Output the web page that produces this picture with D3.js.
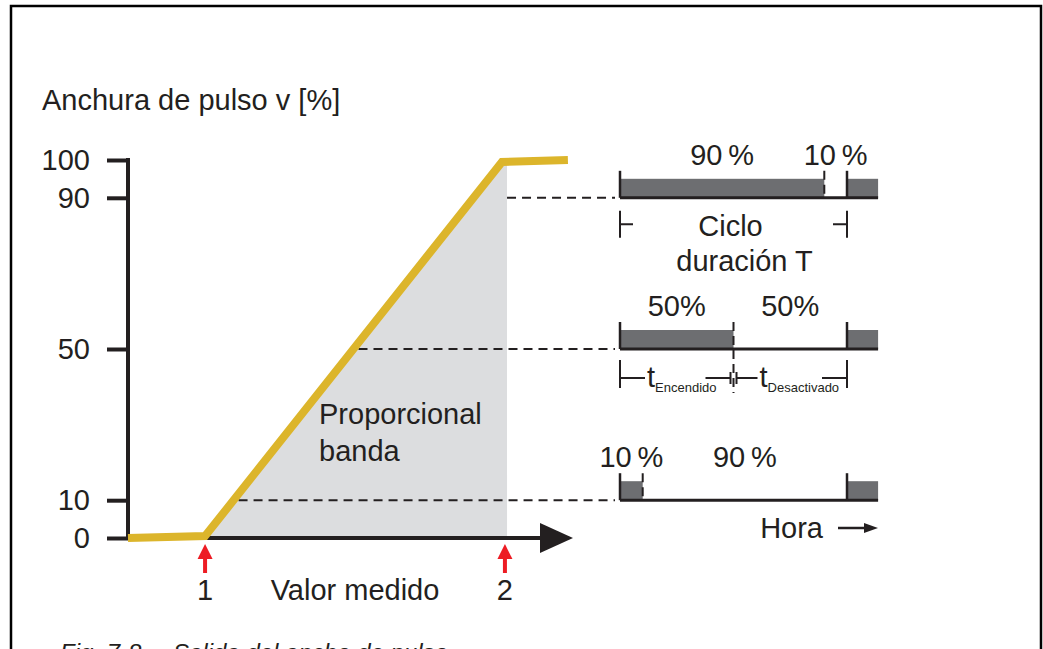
<!DOCTYPE html>
<html>
<head>
<meta charset="utf-8">
<script src="https://cdn.jsdelivr.net/npm/d3@7"></script>
<style>
  body { margin: 0; background: #fff; }
  svg { display: block; font-family: "Liberation Sans", Arial, sans-serif; }
</style>
</head>
<body>
<div id="chart"></div>
<script>
// values
const yTicks = [0, 10, 50, 90, 100];
const curveValues = [-0.257, 0, 0.99, 1.21];   // measured value (1 -> 0, 2 -> 1)
const curveWidths = [0, 0.5, 99.5, 100];       // pulse width v [%]
const markerValues = [0, 1];
const markerLabels = ["1", "2"];
const dutyCycles = [90, 50, 10];
const onLabels = ["90\u2009%", "50%", "10\u2009%"];
const offLabels = ["10\u2009%", "50%", "90\u2009%"];

const ink = "#231f20";
const W = 1043, H = 649;
const fs = "29px";

const svg = d3.select("#chart").append("svg")
  .attr("width", W)
  .attr("height", H);

// frame (open at the bottom)
svg.append("path")
  .attr("d", "M11," + H + "V6H1041V" + H)
  .attr("fill", "none")
  .attr("stroke", "#000")
  .attr("stroke-width", 2.5);

// scales
const x = d3.scaleLinear().domain([-0.257, 1.227]).range([128, 573]);
const y = d3.scaleLinear().domain([0, 100]).range([538, 160]);
const t = d3.scaleLinear().domain([0, 1]).range([620, 847]);   // one pulse period
const tEnd = 1.137;

const curve = curveValues.map(function (v, i) { return { v: v, w: curveWidths[i] }; });

// where the curve reaches a given width
var curveAt = function (w) {
  for (var i = 1; i < curve.length; i++) {
    if (curve[i].w >= w) {
      var a = curve[i - 1], b = curve[i];
      return a.v + (w - a.w) / (b.w - a.w) * (b.v - a.v);
    }
  }
  return curve[curve.length - 1].v;
};

// proportional band shading
const bandEdge = 1.007;
const bandPts = [curve[1], curve[2], { v: bandEdge, w: curve[2].w }];
svg.append("path")
  .datum(bandPts)
  .attr("fill", "#dcdddf")
  .attr("d", d3.area()
    .x(function (d) { return x(d.v); })
    .y0(y(0))
    .y1(function (d) { return y(d.w); }));

// dashed guides from the curve to the pulse diagrams
svg.append("g")
  .selectAll("line")
  .data(dutyCycles)
  .enter()
  .append("line")
  .attr("x1", function (d) { return d >= 90 ? x(bandEdge) : x(curveAt(d)) + 5; })
  .attr("x2", t(0) - 5)
  .attr("y1", function (d) { return y(d); })
  .attr("y2", function (d) { return y(d); })
  .attr("stroke", ink)
  .attr("stroke-width", 2)
  .attr("stroke-dasharray", "9,6");

// y axis
const yAxis = svg.append("g")
  .attr("transform", "translate(" + x(-0.257) + ",0)")
  .call(d3.axisLeft(y).tickValues(yTicks).tickSize(21).tickSizeOuter(0).tickPadding(17));
yAxis.select(".domain").remove();
yAxis.selectAll(".tick line").attr("stroke", ink).attr("stroke-width", 4);
yAxis.selectAll(".tick text")
  .attr("fill", ink)
  .style("font-size", fs)
  .style("font-family", "'Liberation Sans', Arial, sans-serif");
yAxis.append("line")
  .attr("y1", y(100) - 2)
  .attr("y2", y(0) + 2)
  .attr("stroke", ink)
  .attr("stroke-width", 4);

// x axis with arrow
svg.append("line")
  .attr("x1", x(-0.257))
  .attr("x2", x(1.13))
  .attr("y1", y(0))
  .attr("y2", y(0))
  .attr("stroke", ink)
  .attr("stroke-width", 4);
svg.append("path")
  .attr("d", "M" + x(1.117) + "," + (y(0) - 15) + "L" + x(1.227) + "," + y(0) + "L" + x(1.117) + "," + (y(0) + 15) + "Z")
  .attr("fill", ink);

// pulse width curve
svg.append("path")
  .datum(curve)
  .attr("fill", "none")
  .attr("stroke", "#dcb52b")
  .attr("stroke-width", 8)
  .attr("stroke-linejoin", "miter")
  .attr("d", d3.line()
    .x(function (d) { return x(d.v); })
    .y(function (d) { return y(d.w); }));

// red markers 1 and 2
const mk = svg.append("g").selectAll("g")
  .data(markerValues)
  .enter()
  .append("g")
  .attr("transform", function (d) { return "translate(" + x(d) + "," + y(0) + ")"; });
mk.append("line")
  .attr("y1", 18).attr("y2", 35)
  .attr("stroke", "#ed1c24")
  .attr("stroke-width", 4);
mk.append("path")
  .attr("d", "M0,6L7.5,21L-7.5,21Z")
  .attr("fill", "#ed1c24");
mk.append("text")
  .attr("y", 62)
  .attr("text-anchor", "middle")
  .attr("fill", ink)
  .style("font-size", fs)
  .text(function (d, i) { return markerLabels[i]; });

// text labels of the graph
svg.append("text")
  .attr("x", 42).attr("y", 110)
  .attr("fill", ink)
  .style("font-size", fs)
  .text("Anchura de pulso v [%]");
svg.append("text")
  .attr("x", x(0.5)).attr("y", y(0) + 62)
  .attr("text-anchor", "middle")
  .attr("fill", ink)
  .style("font-size", fs)
  .text("Valor medido");
svg.append("text")
  .attr("x", 319).attr("y", 424)
  .attr("fill", ink)
  .style("font-size", fs)
  .text("Proporcional");
svg.append("text")
  .attr("x", 319).attr("y", 461)
  .attr("fill", ink)
  .style("font-size", fs)
  .text("banda");

// pulse diagrams
const rows = svg.append("g").selectAll("g")
  .data(dutyCycles)
  .enter()
  .append("g")
  .attr("transform", function (d) { return "translate(0," + y(d) + ")"; });

rows.append("rect")
  .attr("x", t(0))
  .attr("y", -19)
  .attr("width", function (d) { return t(d / 100) - t(0); })
  .attr("height", 19)
  .attr("fill", "#6d6e71");
rows.append("rect")
  .attr("x", t(1))
  .attr("y", -19)
  .attr("width", t(tEnd) - t(1))
  .attr("height", 19)
  .attr("fill", "#6d6e71");
rows.append("line")
  .attr("x1", t(0)).attr("x2", t(tEnd))
  .attr("stroke", ink).attr("stroke-width", 3);
rows.selectAll(".edge")
  .data([0, 1])
  .enter()
  .append("line")
  .attr("x1", function (d) { return t(d); })
  .attr("x2", function (d) { return t(d); })
  .attr("y1", -27).attr("y2", 0)
  .attr("stroke", ink).attr("stroke-width", 2.5);
rows.append("line")
  .attr("x1", function (d) { return t(d / 100); })
  .attr("x2", function (d) { return t(d / 100); })
  .attr("y1", -27)
  .attr("y2", function (d) { return d === 50 ? 44 : 0; })
  .attr("stroke", ink).attr("stroke-width", 2)
  .attr("stroke-dasharray", "9,5");
rows.append("text")
  .attr("x", function (d) { return t(d / 200); })
  .attr("y", -33)
  .attr("text-anchor", "middle")
  .attr("fill", ink)
  .style("font-size", fs)
  .text(function (d, i) { return onLabels[i]; });
rows.append("text")
  .attr("x", function (d) { return t((d / 100 + 1) / 2); })
  .attr("y", -33)
  .attr("text-anchor", "middle")
  .attr("fill", ink)
  .style("font-size", fs)
  .text(function (d, i) { return offLabels[i]; });

// cycle duration T (90 % row)
const r1 = svg.append("g").attr("transform", "translate(0," + y(90) + ")");
r1.append("path")
  .attr("d", "M" + t(0) + ",13V40M" + t(0) + ",26.5H" + (t(0) + 13) +
             "M" + t(1) + ",13V40M" + t(1) + ",26.5H" + (t(1) - 14))
  .attr("fill", "none").attr("stroke", ink).attr("stroke-width", 2);
r1.append("text")
  .attr("x", t(0.5) - 3).attr("y", 38)
  .attr("text-anchor", "middle").attr("fill", ink)
  .style("font-size", fs)
  .text("Ciclo");
r1.append("text")
  .attr("x", t(0.5) + 11).attr("y", 73)
  .attr("text-anchor", "middle").attr("fill", ink)
  .style("font-size", fs)
  .text("duración T");

// t on / t off (50 % row)
const r2 = svg.append("g").attr("transform", "translate(0," + y(50) + ")");
const mid = t(0.5);
r2.append("path")
  .attr("d",
    "M" + t(0) + ",11V39M" + t(0) + ",29H" + (t(0) + 25) +
    "M" + (mid - 28) + ",29H" + (mid - 3) + "M" + (mid - 3) + ",23V35" +
    "M" + (mid + 3) + ",23V35M" + (mid + 3) + ",29H" + (mid + 24) +
    "M" + (t(1) - 25) + ",29H" + t(1) + "M" + t(1) + ",11V39")
  .attr("fill", "none").attr("stroke", ink).attr("stroke-width", 2);
const tOn = r2.append("text")
  .attr("x", t(0) + 27).attr("y", 38)
  .attr("fill", ink)
  .style("font-size", fs);
tOn.append("tspan").text("t");
tOn.append("tspan").attr("dy", 5).style("font-size", "13px").text("Encendido");
const tOff = r2.append("text")
  .attr("x", mid + 26).attr("y", 38)
  .attr("fill", ink)
  .style("font-size", fs);
tOff.append("tspan").text("t");
tOff.append("tspan").attr("dy", 5).style("font-size", "13px").text("Desactivado");

// time arrow
svg.append("text")
  .attr("x", 823).attr("y", y(0))
  .attr("text-anchor", "end")
  .attr("fill", ink)
  .style("font-size", fs)
  .text("Hora");
svg.append("line")
  .attr("x1", 838).attr("x2", 866)
  .attr("y1", y(0) - 10).attr("y2", y(0) - 10)
  .attr("stroke", ink).attr("stroke-width", 2.5);
svg.append("path")
  .attr("d", "M864," + (y(0) - 15) + "L878," + (y(0) - 10) + "L864," + (y(0) - 5) + "Z")
  .attr("fill", ink);

// caption, cut off by the bottom edge as in the source page
const cap = svg.append("g")
  .attr("fill", ink)
  .style("font-style", "italic")
  .style("font-size", "24px");
cap.append("text").attr("x", 60).attr("y", 661).text("Fig. 7-8");
cap.append("text").attr("x", 173).attr("y", 661).text("Salida del ancho de pulso");
</script>
</body>
</html>
